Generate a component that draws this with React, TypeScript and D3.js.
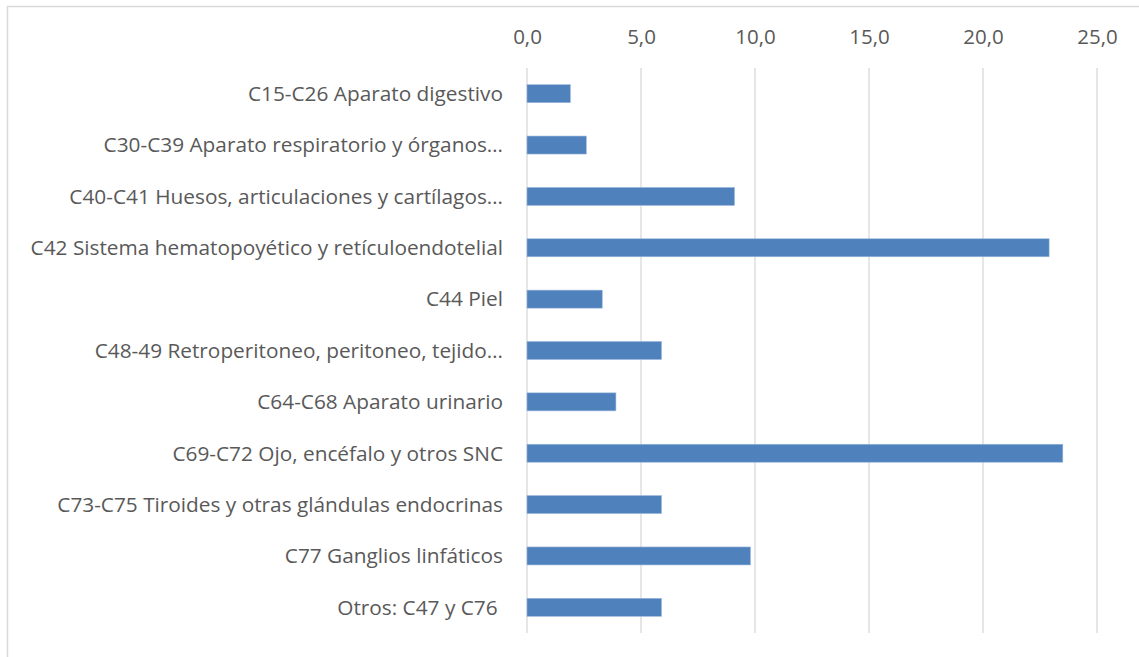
import { useRef, useEffect } from 'react'
import * as d3 from 'd3'

const categories = [
  'C15-C26 Aparato digestivo',
  'C30-C39 Aparato respiratorio y órganos…',
  'C40-C41 Huesos, articulaciones y cartílagos…',
  'C42 Sistema hematopoyético y retículoendotelial',
  'C44 Piel',
  'C48-49 Retroperitoneo, peritoneo, tejido…',
  'C64-C68 Aparato urinario',
  'C69-C72 Ojo, encéfalo y otros SNC',
  'C73-C75 Tiroides y otras glándulas endocrinas',
  'C77 Ganglios linfáticos',
  'Otros: C47 y C76\u00a0',
]

const values = [1.9, 2.6, 9.1, 22.9, 3.3, 5.9, 3.9, 23.5, 5.9, 9.8, 5.9]

const xTicks = [0, 5, 10, 15, 20, 25]

export default function App() {
  const svgRef = useRef<SVGSVGElement>(null)

  useEffect(() => {
    if (!svgRef.current) return
    const svg = d3.select(svgRef.current)
    svg.selectAll('*').remove()

    const totalWidth = 1139
    const totalHeight = 657
    const margin = { top: 68, right: 42, bottom: 24, left: 527 }
    const height = totalHeight - margin.top - margin.bottom

    svg.attr('width', totalWidth).attr('height', totalHeight)

    // chart frame
    svg
      .append('rect')
      .attr('x', 7.5)
      .attr('y', 6.5)
      .attr('width', totalWidth + 10)
      .attr('height', totalHeight + 10)
      .attr('fill', '#fff')
      .attr('stroke', '#d9d9d9')
      .attr('stroke-width', 1.5)

    const g = svg.append('g').attr('transform', `translate(${margin.left},${margin.top})`)

    const x = d3.scaleLinear().domain([0, 25]).range([0, 570])
    const y = d3.scaleBand().domain(categories).range([0, height]).paddingInner(0.65).paddingOuter(0.325)

    // Grid lines
    g.append('g')
      .selectAll('line')
      .data(xTicks)
      .join('line')
      .attr('x1', (d) => x(d))
      .attr('x2', (d) => x(d))
      .attr('y1', 0)
      .attr('y2', height)
      .attr('stroke', '#d9d9d9')
      .attr('stroke-width', 1.3)

    // Bars
    g.selectAll('rect.bar')
      .data(values)
      .join('rect')
      .attr('class', 'bar')
      .attr('x', x(0))
      .attr('y', (_, i) => y(categories[i]) as number)
      .attr('width', (d) => x(d) - x(0))
      .attr('height', y.bandwidth())
      .attr('fill', '#4f81bd')
      .attr('stroke', '#9ab6dc')
      .attr('stroke-width', 0.6)

    // Top axis labels
    g.append('g')
      .call(
        d3
          .axisTop(x)
          .tickValues(xTicks)
          .tickSize(0)
          .tickPadding(0)
          .tickFormat((d) => d3.format('.1f')(d as number).replace('.', ',')),
      )
      .call((ax) => {
        ax.select('.domain').remove()
        ax.selectAll('.tick text')
          .attr('fill', '#595959')
          .attr('font-size', '20.5px')
          .attr('font-family', 'Open Sans, sans-serif')
          .attr('dy', 0)
          .attr('y', -24)
      })

    // Category labels
    g.append('g')
      .selectAll('text')
      .data(categories)
      .join('text')
      .attr('x', -24)
      .attr('y', (d) => (y(d) as number) + y.bandwidth() / 2)
      .attr('dy', '0.35em')
      .attr('text-anchor', 'end')
      .attr('fill', '#595959')
      .attr('font-size', '20.8px')
      .attr('font-family', 'Open Sans, sans-serif')
      .text((d) => d)
  }, [])

  return (
    <div style={{ position: 'absolute', left: 0, top: 0, width: 1139, height: 657, overflow: 'hidden' }}>
      <svg ref={svgRef} style={{ display: 'block' }} />
    </div>
  )
}
